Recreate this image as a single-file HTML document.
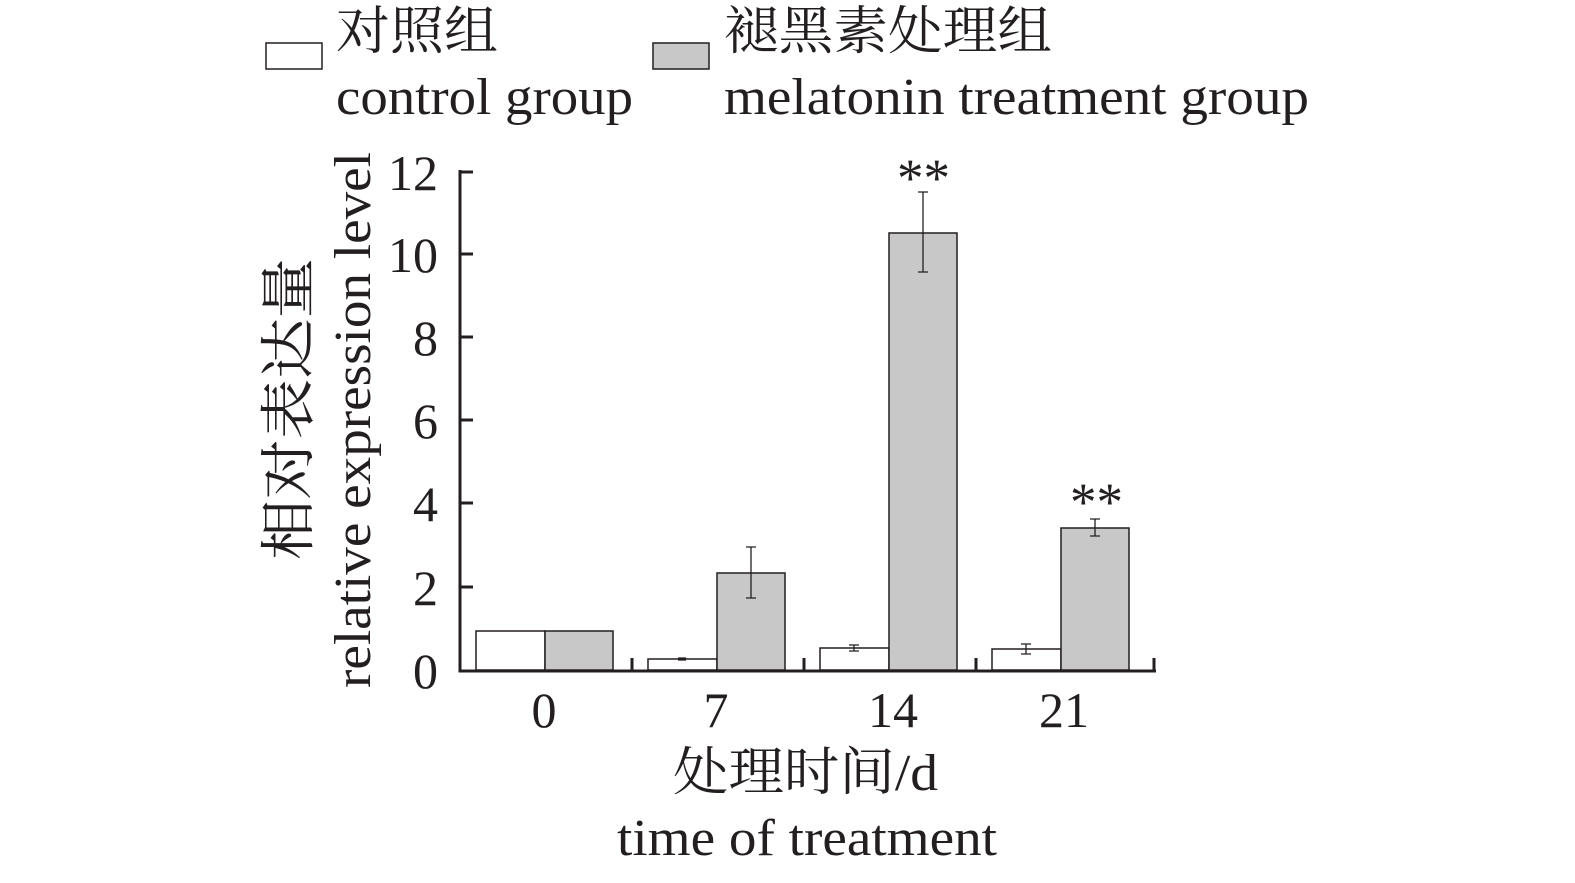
<!DOCTYPE html>
<html><head><meta charset="utf-8"><style>
html,body{margin:0;padding:0;background:#fff;}
svg text{font-family:"Liberation Serif","Noto Serif CJK SC",serif;fill:#231f20;}
</style></head><body>
<svg width="1575" height="878" xmlns="http://www.w3.org/2000/svg">
<g stroke="#231f20" stroke-width="1.5">
<rect x="266" y="43" width="56" height="26" fill="#fff"/>
<rect x="653" y="43" width="56" height="26" fill="#c8c8c8"/>
</g>
<text x="336" y="49" font-size="52" textLength="162" lengthAdjust="spacingAndGlyphs">对照组</text>
<text x="336" y="114" font-size="52" textLength="297" lengthAdjust="spacingAndGlyphs">control group</text>
<text x="724" y="49" font-size="52" textLength="328" lengthAdjust="spacingAndGlyphs">褪黑素处理组</text>
<text x="724" y="114" font-size="52" textLength="585" lengthAdjust="spacingAndGlyphs">melatonin treatment group</text>

<g stroke="#231f20" stroke-width="1.5">
<rect x="476" y="631" width="69" height="39" fill="#fff"/>
<rect x="545" y="631" width="68" height="39" fill="#c8c8c8"/>
<rect x="648" y="659" width="69" height="11" fill="#fff"/>
<rect x="717" y="573" width="68" height="97" fill="#c8c8c8"/>
<rect x="820" y="648" width="69" height="22" fill="#fff"/>
<rect x="889" y="233" width="68" height="437" fill="#c8c8c8"/>
<rect x="992" y="649" width="69" height="21" fill="#fff"/>
<rect x="1061" y="528" width="68" height="142" fill="#c8c8c8"/>
</g>
<g stroke="#231f20" stroke-width="1.3" fill="none">
<path d="M682 658v2M678 658h8M678 660h8"/>
<path d="M751 547v51M746 547h10M746 598h10"/>
<path d="M854 645v6M849 645h10M849 651h10"/>
<path d="M923 192v80M918 192h10M918 272h10"/>
<path d="M1026 644v10M1021 644h10M1021 654h10"/>
<path d="M1095 519v17M1090 519h10M1090 536h10"/>
</g>
<g stroke="#231f20" stroke-width="3" fill="none">
<path d="M460 170V671H1156"/>
<path d="M460 172h13M460 254h13M460 337h13M460 420h13M460 503h13M460 587h13"/>
<path d="M632 671v-13M804 671v-13M976 671v-13M1154 671v-13"/>
</g>
<g font-size="50" text-anchor="end">
<text x="438" y="190">12</text>
<text x="438" y="272">10</text>
<text x="438" y="355">8</text>
<text x="438" y="438">6</text>
<text x="438" y="521">4</text>
<text x="438" y="605">2</text>
<text x="438" y="688">0</text>
</g>
<g font-size="50" text-anchor="middle">
<text x="544" y="727">0</text>
<text x="716" y="727">7</text>
<text x="893" y="727">14</text>
<text x="1064" y="727">21</text>
</g>
<text x="673" y="790" font-size="52" textLength="265" lengthAdjust="spacingAndGlyphs">处理时间/d</text>
<text x="617" y="855" font-size="52" textLength="380" lengthAdjust="spacingAndGlyphs">time of treatment</text>
<text x="897" y="196" font-size="54" textLength="53" lengthAdjust="spacingAndGlyphs">**</text>
<text x="1070" y="520" font-size="54" textLength="53" lengthAdjust="spacingAndGlyphs">**</text>
<text transform="translate(308,560) rotate(-90)" font-size="56" textLength="302" lengthAdjust="spacingAndGlyphs">相对表达量</text>
<text transform="translate(370,688) rotate(-90)" font-size="52" textLength="536" lengthAdjust="spacingAndGlyphs">relative expression level</text>
</svg>
</body></html>
